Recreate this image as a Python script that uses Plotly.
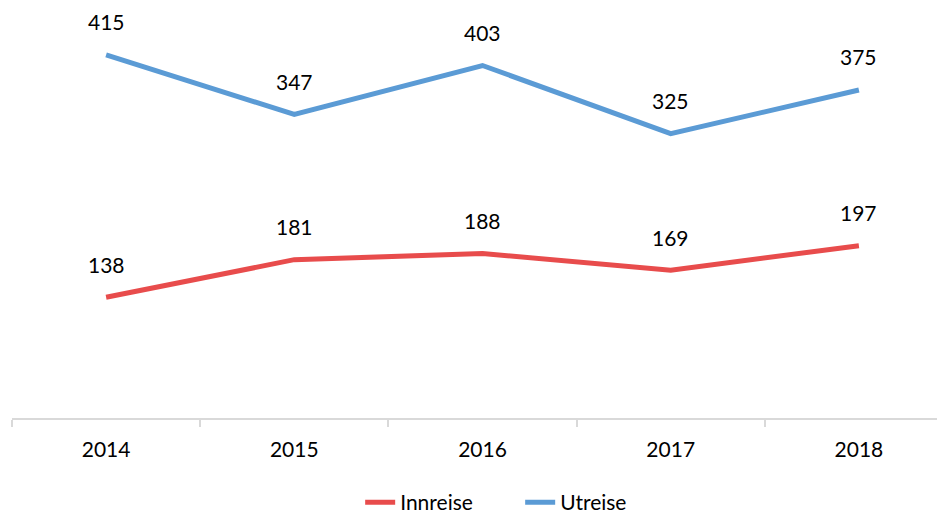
import plotly.graph_objects as go

years = ["2014", "2015", "2016", "2017", "2018"]
innreise = [138, 181, 188, 169, 197]
utreise = [415, 347, 403, 325, 375]

FONT = "Lato, Carlito, sans-serif"
RED = "#E84C4C"
BLUE = "#5B9BD5"

fig = go.Figure()
fig.add_trace(go.Scatter(x=years, y=innreise, mode="lines", name="Innreise",
                         line=dict(color=RED, width=5)))
fig.add_trace(go.Scatter(x=years, y=utreise, mode="lines", name="Utreise",
                         line=dict(color=BLUE, width=5)))

annotations = []
for series in (innreise, utreise):
    for i, v in enumerate(series):
        annotations.append(dict(x=i, y=v, xref="x", yref="y", text=str(v), showarrow=False,
                                yshift=33, font=dict(size=21, color="#000000", family=FONT)))

fig.update_layout(
    width=945, height=515,
    margin=dict(l=4, r=0, t=12, b=102),
    paper_bgcolor="white", plot_bgcolor="white",
    font=dict(family=FONT, size=21, color="#000000"),
    showlegend=True,
    legend=dict(orientation="h", x=0.37, xanchor="left", y=-0.162, yanchor="top",
                font=dict(size=21), entrywidth=115, entrywidthmode="pixels"),
    annotations=annotations,
    xaxis=dict(type="category", range=[-0.5, 4.5], showgrid=False,
               showline=True, linecolor="#D9D9D9", linewidth=1.5,
               ticks="outside", ticklen=7, tickcolor="#D9D9D9", tickwidth=1.5,
               tickson="boundaries", tickfont=dict(size=21), ticklabelstandoff=12,
               zeroline=False),
    yaxis=dict(range=[0, 455], visible=False, showgrid=False, zeroline=False),
)

fig.write_html("out.html")
